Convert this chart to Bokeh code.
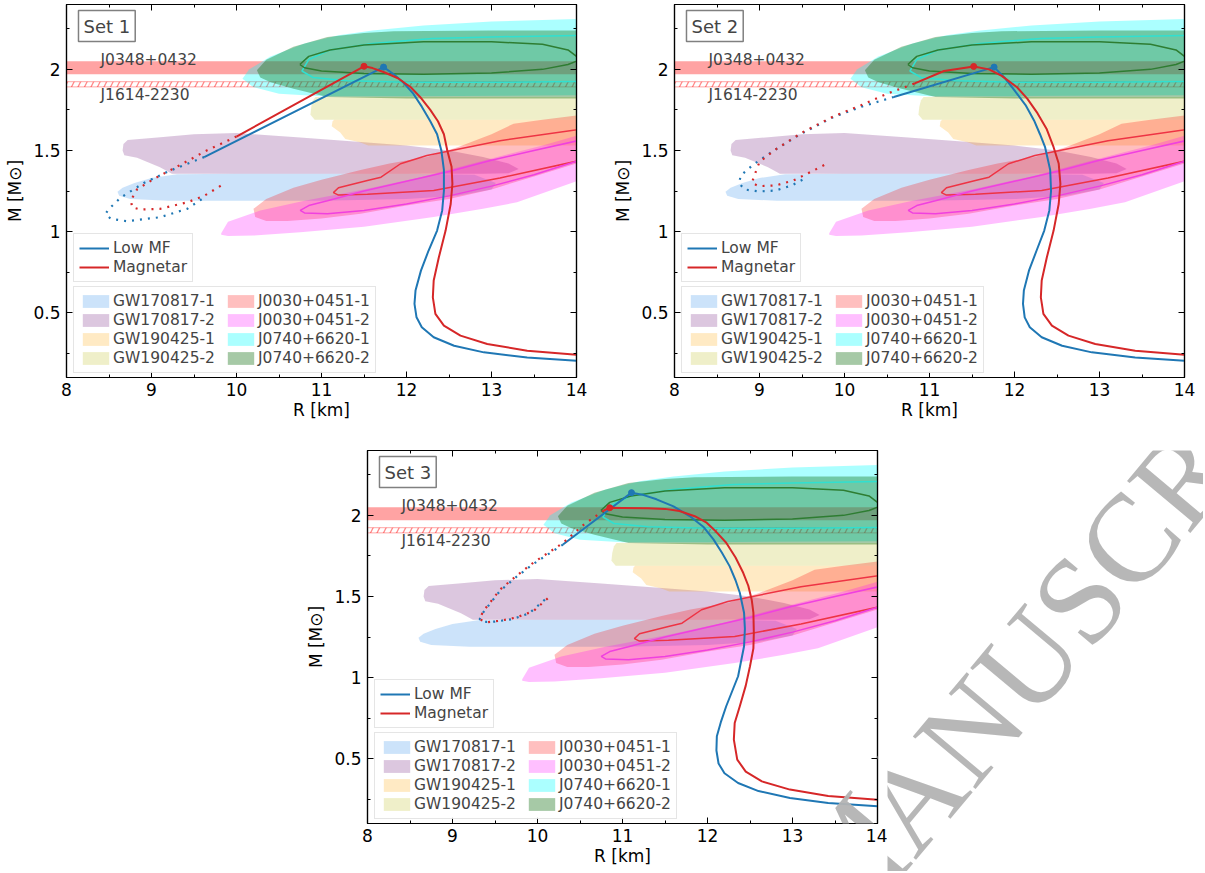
from bokeh.plotting import figure
from bokeh.models import (Range1d, LinearAxis, FixedTicker, SingleIntervalTicker, Label,
                          BoxAnnotation, Legend, LegendItem, Spacer, CustomJSTickFormatter)
from bokeh.layouts import row, column
from bokeh.embed import file_html
from bokeh.resources import INLINE

FONT = "DejaVu Sans"
BLUE = "#1f77b4"
RED = "#d62728"

# ---------------- axes ----------------
R_RANGE = (8, 14)
M_RANGE = (0.1, 2.4)
M_TICKS = [0.5, 1, 1.5, 2]
M_MINOR = [0.25, 0.75, 1.25, 1.75, 2.25]
M_LABELS = ["0.5", "1", "1.5", "2"]

# ---------------- pulsar mass bands ----------------
J0348_BAND = (1.97, 2.05)
J1614_BAND = (1.892, 1.924)

# ---------------- observational regions (R [km], M [Msun]) ----------------
GW170817_1_R = [8.60, 8.66, 8.80, 9.00, 9.30, 10.0, 11.0, 12.0, 12.8, 13.05, 13.0, 12.6, 12.0, 11.0, 10.0, 9.2, 8.75, 8.62]
GW170817_1_M = [1.245, 1.27, 1.30, 1.33, 1.354, 1.356, 1.356, 1.356, 1.35, 1.30, 1.26, 1.22, 1.20, 1.19, 1.19, 1.19, 1.20, 1.22]

GW170817_2_R = [8.67, 8.72, 9.07, 9.5, 10.0, 10.75, 11.5, 12.0, 12.5, 12.9, 13.2, 13.32, 13.2, 12.9, 9.24, 9.1, 8.83, 8.68, 8.66]
GW170817_2_M = [1.54, 1.565, 1.58, 1.60, 1.607, 1.58, 1.55, 1.53, 1.50, 1.46, 1.42, 1.385, 1.36, 1.357, 1.357, 1.397, 1.455, 1.47, 1.50]

GW190425_1_R = [11.15, 14.0, 14.0, 11.55, 11.45, 11.28, 11.22, 11.12, 11.13]
GW190425_1_M = [1.69, 1.69, 1.53, 1.53, 1.55, 1.57, 1.61, 1.65, 1.68]

GW190425_2_R = [10.93, 14.0, 14.0, 10.92, 10.87, 10.88, 10.90]
GW190425_2_M = [1.83, 1.83, 1.69, 1.69, 1.72, 1.77, 1.81]

J0030_1_R = [10.2, 10.35, 10.67, 11.0, 11.46, 11.8, 12.24, 12.6, 13.0, 13.26, 13.6, 14.0,
             14.0, 13.5, 13.0, 12.5, 12.0, 11.46, 11.0, 10.6, 10.35, 10.22]
J0030_1_M = [1.14, 1.20, 1.27, 1.32, 1.38, 1.42, 1.46, 1.52, 1.60, 1.665, 1.69, 1.716,
             1.42, 1.34, 1.26, 1.20, 1.16, 1.11, 1.08, 1.065, 1.065, 1.09]

J0030_2_R = [9.82, 9.9, 10.28, 10.8, 11.5, 12.2, 13.0, 13.6, 14.0,
             14.0, 13.3, 12.9, 12.32, 11.5, 10.75, 10.2, 9.9, 9.82]
J0030_2_M = [0.99, 1.06, 1.13, 1.19, 1.26, 1.34, 1.45, 1.53, 1.59,
             1.31, 1.18, 1.14, 1.09, 1.03, 0.996, 0.975, 0.972, 0.98]

J0740_1_R = [10.07, 10.15, 10.4, 10.8, 11.2, 11.6, 12.2, 13.0, 14.0, 14.0, 12.0, 11.0, 10.5, 10.2]
J0740_1_M = [1.942, 2.0, 2.08, 2.16, 2.21, 2.24, 2.27, 2.295, 2.31, 1.84, 1.835, 1.835, 1.85, 1.89]

J0740_2_R = [10.24, 10.35, 10.67, 11.07, 11.5, 11.85, 13.0, 14.0, 14.0, 12.0, 11.07, 10.67, 10.4, 10.28]
J0740_2_M = [1.994, 2.06, 2.14, 2.20, 2.225, 2.235, 2.24, 2.24, 1.82, 1.82, 1.83, 1.88, 1.92, 1.95]

# 68% contours
J0740_2_C_R = [10.745, 10.85, 11.1, 11.5, 12.2, 13.0, 13.6, 13.9, 14.05, 13.9, 13.6, 13.0, 12.2, 11.5, 11.0, 10.8, 10.745]
J0740_2_C_M = [2.03, 2.08, 2.12, 2.15, 2.17, 2.17, 2.155, 2.12, 2.06, 2.03, 2.0, 1.978, 1.97, 1.975, 1.99, 2.01, 2.03]
J0740_1_C_R = [14.1, 13.0, 12.3, 11.6, 11.1, 10.85, 10.77, 10.9, 11.3, 12.0, 13.0, 14.1]
J0740_1_C_M = [2.21, 2.20, 2.19, 2.16, 2.12, 2.06, 1.99, 1.95, 1.93, 1.92, 1.92, 1.925]
J0030_1_C_R = [14.1, 13.1, 12.24, 11.93, 11.7, 11.54, 11.2, 11.14, 11.2, 11.54, 12.32, 13.1, 14.1]
J0030_1_C_M = [1.635, 1.56, 1.469, 1.418, 1.335, 1.315, 1.27, 1.24, 1.225, 1.23, 1.253, 1.33, 1.445]
J0030_2_C_R = [14.1, 13.5, 13.0, 12.5, 12.0, 11.5, 11.07, 10.85, 10.75, 10.8, 11.07, 11.5, 12.0, 12.5, 13.0, 13.5, 14.1]
J0030_2_C_M = [1.57, 1.50, 1.44, 1.37, 1.31, 1.25, 1.19, 1.16, 1.13, 1.115, 1.11, 1.13, 1.17, 1.22, 1.28, 1.35, 1.45]

# ---------------- mass-radius curves ----------------
# Set 1
S1_LOW_R = [14.0, 13.42, 12.91, 12.56, 12.32, 12.18, 12.118, 12.094, 12.106, 12.17, 12.26, 12.36, 12.42, 12.44,
            12.44, 12.41, 12.36, 12.28, 12.18, 12.08, 11.96, 11.85, 11.73, 9.62]
S1_LOW_M = [0.204, 0.224, 0.255, 0.296, 0.348, 0.41, 0.471, 0.554, 0.636, 0.759, 0.883, 1.006, 1.13, 1.25,
            1.38, 1.50, 1.60, 1.68, 1.77, 1.85, 1.92, 1.97, 2.014, 1.459]
S1_LOW_DOT_R = [9.62, 9.22, 8.91, 8.64, 8.5, 8.46, 8.52, 8.71, 9.1, 9.42, 9.62]
S1_LOW_DOT_M = [1.459, 1.376, 1.30, 1.21, 1.14, 1.11, 1.078, 1.064, 1.088, 1.14, 1.21]
S1_MAG_R = [14.0, 13.42, 12.95, 12.635, 12.44, 12.34, 12.31, 12.32, 12.38, 12.46, 12.52, 12.54, 12.53, 12.48,
            12.44, 12.37, 12.28, 12.16, 12.05, 11.9, 11.73, 11.6, 11.5, 10.0]
S1_MAG_M = [0.241, 0.265, 0.307, 0.358, 0.42, 0.492, 0.594, 0.698, 0.84, 1.006, 1.17, 1.294, 1.40, 1.50,
            1.60, 1.68, 1.75, 1.83, 1.89, 1.945, 1.984, 2.008, 2.019, 1.586]
S1_MAG_DOT_R = [10.0, 9.65, 9.3, 9.03, 8.83, 8.76, 8.77, 8.87, 9.1, 9.42, 9.62, 9.87]
S1_MAG_DOT_M = [1.586, 1.50, 1.40, 1.325, 1.26, 1.195, 1.15, 1.136, 1.14, 1.18, 1.22, 1.30]

# Set 2
S2_LOW_R = [14.0, 13.42, 12.91, 12.56, 12.32, 12.18, 12.12, 12.10, 12.11, 12.17, 12.26, 12.35, 12.41, 12.43,
            12.42, 12.36, 12.30, 12.23, 12.13, 12.0, 11.88, 11.76, 10.58]
S2_LOW_M = [0.204, 0.224, 0.255, 0.296, 0.348, 0.41, 0.471, 0.554, 0.636, 0.759, 0.883, 1.006, 1.13, 1.25,
            1.38, 1.52, 1.60, 1.685, 1.78, 1.87, 1.95, 2.014, 1.83]
S2_LOW_DOT_R = [10.58, 10.2, 9.87, 9.48, 9.17, 8.93, 8.78, 8.76, 8.82, 8.99, 9.19, 9.38, 9.56]
S2_LOW_DOT_M = [1.83, 1.77, 1.706, 1.60, 1.50, 1.414, 1.346, 1.30, 1.26, 1.247, 1.253, 1.284, 1.335]
S2_MAG_R = [14.0, 13.42, 12.95, 12.635, 12.44, 12.34, 12.31, 12.32, 12.38, 12.46, 12.52, 12.54, 12.52, 12.46,
            12.38, 12.27, 12.15, 12.03, 11.85, 11.7, 11.52, 11.17, 10.82]
S2_MAG_M = [0.241, 0.265, 0.307, 0.358, 0.42, 0.492, 0.594, 0.698, 0.84, 1.006, 1.17, 1.294, 1.42, 1.52,
            1.63, 1.73, 1.82, 1.89, 1.96, 2.0, 2.018, 1.99, 1.912]
S2_MAG_DOT_R = [10.82, 10.5, 10.2, 9.87, 9.5, 9.2, 9.0, 8.94, 8.91, 8.99, 9.19, 9.4, 9.6, 9.8]
S2_MAG_DOT_M = [1.912, 1.85, 1.78, 1.71, 1.61, 1.51, 1.43, 1.346, 1.30, 1.28, 1.284, 1.315, 1.367, 1.42]

# Set 3
S3_LOW_R = [14.0, 13.42, 12.97, 12.6, 12.36, 12.2, 12.13, 12.105, 12.11, 12.16, 12.22, 12.36, 12.43, 12.44,
            12.43, 12.38, 12.33, 12.26, 12.17, 12.07, 11.95, 11.79, 11.6, 11.4, 11.25, 11.106, 10.3]
S3_LOW_M = [0.206, 0.226, 0.257, 0.30, 0.35, 0.41, 0.47, 0.55, 0.638, 0.73, 0.823, 1.008, 1.193, 1.30,
            1.40, 1.523, 1.60, 1.687, 1.77, 1.852, 1.93, 1.996, 2.055, 2.099, 2.125, 2.14, 1.82]
S3_LOW_DOT_R = [10.3, 9.95, 9.75, 9.56, 9.44, 9.36, 9.32, 9.35, 9.5, 9.7, 9.9, 10.13]
S3_LOW_DOT_M = [1.82, 1.70, 1.62, 1.535, 1.455, 1.40, 1.36, 1.342, 1.345, 1.36, 1.395, 1.50]
S3_MAG_R = [14.0, 13.42, 12.97, 12.64, 12.45, 12.35, 12.31, 12.32, 12.38, 12.45, 12.5, 12.54, 12.545, 12.54,
            12.52, 12.48, 12.42, 12.33, 12.22, 12.1, 11.99, 11.85, 11.67, 11.5, 11.3, 11.0, 10.85, 10.78]
S3_MAG_M = [0.247, 0.27, 0.309, 0.36, 0.42, 0.494, 0.617, 0.72, 0.823, 0.95, 1.07, 1.18, 1.276, 1.40,
            1.48, 1.566, 1.646, 1.74, 1.831, 1.90, 1.955, 1.995, 2.027, 2.04, 2.044, 2.046, 2.047, 2.03]
S3_MAG_DOT_R = [10.78, 10.55, 10.3, 9.95, 9.75, 9.56, 9.44, 9.36, 9.32, 9.4, 9.56, 9.75, 9.95, 10.15]
S3_MAG_DOT_M = [2.03, 1.945, 1.83, 1.708, 1.626, 1.543, 1.461, 1.409, 1.358, 1.341, 1.35, 1.37, 1.409, 1.502]

SETS = [
    ("Set 1", (S1_LOW_R, S1_LOW_M, S1_LOW_DOT_R, S1_LOW_DOT_M), (S1_MAG_R, S1_MAG_M, S1_MAG_DOT_R, S1_MAG_DOT_M)),
    ("Set 2", (S2_LOW_R, S2_LOW_M, S2_LOW_DOT_R, S2_LOW_DOT_M), (S2_MAG_R, S2_MAG_M, S2_MAG_DOT_R, S2_MAG_DOT_M)),
    ("Set 3", (S3_LOW_R, S3_LOW_M, S3_LOW_DOT_R, S3_LOW_DOT_M), (S3_MAG_R, S3_MAG_M, S3_MAG_DOT_R, S3_MAG_DOT_M)),
]

REGIONS = [
    ("GW170817-1", GW170817_1_R, GW170817_1_M, "#64aaf0", 0.33),
    ("GW170817-2", GW170817_2_R, GW170817_2_M, "#8c4696", 0.30),
    ("GW190425-1", GW190425_1_R, GW190425_1_M, "#ffa500", 0.23),
    ("GW190425-2", GW190425_2_R, GW190425_2_M, "#bebe28", 0.25),
    ("J0030+0451-1", J0030_1_R, J0030_1_M, "#ff0000", 0.25),
    ("J0030+0451-2", J0030_2_R, J0030_2_M, "#ff00ff", 0.25),
    ("J0740+6620-1", J0740_1_R, J0740_1_M, "#00ffff", 0.33),
    ("J0740+6620-2", J0740_2_R, J0740_2_M, "#006400", 0.35),
]
CONTOURS = [
    (J0030_1_C_R, J0030_1_C_M, "#ee3344"),
    (J0030_2_C_R, J0030_2_C_M, "#f040e0"),
    (J0740_1_C_R, J0740_1_C_M, "#30e0d0"),
    (J0740_2_C_R, J0740_2_C_M, "#2e7d32"),
]

WATERMARK = "ACCEPTED MANUSCRIPT"

# ---------------- layout (page pixels) ----------------
FRAME_W, FRAME_H = 510, 373
ROW1 = dict(top=4, bottom=52)
ROW2 = dict(top=21, bottom=48)
P3_OFFSET = 301
P4_W = 316
WM_END = (1329, 280)      # page position of the watermark's end (right edge, middle)
WM_ANGLE = 0.873


def style_axis(ax, size="17px"):
    ax.axis_line_color = "black"
    ax.axis_line_width = 1.2
    ax.major_tick_in = 6
    ax.major_tick_out = 0
    ax.minor_tick_in = 3
    ax.minor_tick_out = 0
    ax.major_tick_line_color = "black"
    ax.minor_tick_line_color = "black"
    ax.major_label_text_font = FONT
    ax.major_label_text_font_size = size
    ax.major_label_text_color = "black"
    ax.axis_label_text_font = FONT
    ax.axis_label_text_font_size = "17px"
    ax.axis_label_text_font_style = "normal"
    ax.axis_label_text_color = "black"


def make_panel(title, low, mag, mbl, mbr, mbt, mbb, wm_frame_origin=None):
    p = figure(x_range=Range1d(*R_RANGE), y_range=Range1d(*M_RANGE),
               frame_width=FRAME_W, frame_height=FRAME_H,
               min_border_left=mbl, min_border_right=mbr, min_border_top=mbt, min_border_bottom=mbb,
               output_backend="svg", toolbar_location=None,
               x_axis_label="R [km]", y_axis_label="M [M\u2299]")
    p.xgrid.visible = False
    p.ygrid.visible = False
    p.outline_line_color = "black"
    p.outline_line_width = 1.2
    p.background_fill_color = "white"
    p.border_fill_color = "white"

    p.xaxis.ticker = SingleIntervalTicker(interval=1, num_minor_ticks=2)
    p.yaxis.ticker = FixedTicker(ticks=M_TICKS, minor_ticks=M_MINOR)
    p.yaxis.major_label_overrides = dict(zip(M_TICKS, M_LABELS))
    for ax in p.xaxis + p.yaxis:
        style_axis(ax)
    p.xaxis.major_label_standoff = 5
    p.xaxis.axis_label_standoff = 1
    p.yaxis.major_label_standoff = 6
    p.yaxis.axis_label_standoff = 5

    blank = CustomJSTickFormatter(code="return ''")
    top = LinearAxis(ticker=SingleIntervalTicker(interval=1, num_minor_ticks=2), formatter=blank)
    right = LinearAxis(ticker=FixedTicker(ticks=M_TICKS, minor_ticks=M_MINOR), formatter=blank)
    for ax in (top, right):
        style_axis(ax, size="1px")
        ax.major_label_standoff = 0
    p.add_layout(top, "above")
    p.add_layout(right, "right")

    # pulsar bands
    p.add_layout(BoxAnnotation(bottom=J0348_BAND[0], top=J0348_BAND[1], fill_color="red", fill_alpha=0.36,
                               line_color=None, level="underlay"))
    p.add_layout(BoxAnnotation(bottom=J1614_BAND[0], top=J1614_BAND[1], fill_color=None, fill_alpha=0,
                               line_color="red", line_alpha=0.35, line_width=1,
                               hatch_pattern="/", hatch_color="#ff4040", hatch_alpha=0.6,
                               hatch_scale=13, hatch_weight=1.3, level="underlay"))

    patches = []
    for name, rr, mm, col, a in REGIONS:
        r = p.patch(rr, mm, fill_color=col, fill_alpha=a, line_color=None)
        patches.append((name, r))
    for rr, mm, col in CONTOURS:
        p.line(rr, mm, line_color=col, line_width=1.5)

    lines = []
    for (rr, mm, dr, dm), col in ((low, BLUE), (mag, RED)):
        ln = p.line(rr, mm, line_color=col, line_width=2, line_join="round")
        p.line(dr, dm, line_color=col, line_width=2.2, line_dash="2 6")
        i = max(range(len(mm)), key=lambda k: mm[k])
        p.scatter([rr[i]], [mm[i]], size=6, color=col)
        lines.append(ln)

    p.add_layout(Label(x=8.4, y=2.056, text="J0348+0432", text_font=FONT, text_font_size="15.5px",
                       text_baseline="alphabetic", text_align="left"))
    p.add_layout(Label(x=8.4, y=1.90, text="J1614-2230", text_font=FONT, text_font_size="15.5px",
                       text_baseline="top", text_align="left"))
    p.add_layout(Label(x=8.141, y=2.3625, text=title, text_font=FONT, text_font_size="18px",
                       text_baseline="top", text_align="left", background_fill_color="white",
                       border_line_color="#808080", border_line_width=1.5, padding=5))

    common = dict(label_text_font=FONT, label_text_font_size="15.5px", margin=0, padding=5, spacing=1,
                  border_line_color="#cccccc", border_line_width=1.2, background_fill_alpha=0.85,
                  glyph_height=16, label_height=18)
    leg1 = Legend(items=[LegendItem(label="Low MF", renderers=[lines[0]]),
                         LegendItem(label="Magnetar", renderers=[lines[1]])],
                  location=(7, 95), glyph_width=30, label_standoff=4, **common)
    leg2 = Legend(items=[LegendItem(label=n, renderers=[r]) for n, r in patches],
                  location=(7, 4), nrows=4, orientation="vertical", glyph_width=33, label_standoff=1,
                  label_width=110, **common)
    p.add_layout(leg1)
    p.add_layout(leg2)

    if wm_frame_origin is not None:
        fx, fy = wm_frame_origin  # page px of frame top-left
        sx = (R_RANGE[1] - R_RANGE[0]) / FRAME_W
        sy = (M_RANGE[1] - M_RANGE[0]) / FRAME_H
        p.add_layout(Label(x=R_RANGE[0] + (WM_END[0] - fx) * sx, y=M_RANGE[1] + (fy - WM_END[1]) * sy,
                           text=WATERMARK, angle=WM_ANGLE, text_align="right", text_baseline="middle",
                           text_font="Liberation Serif", text_font_size="125px",
                           text_color="#b3b3b3", text_alpha=0.95))
    return p


p1 = make_panel(SETS[0][0], SETS[0][1], SETS[0][2], 66, 32, ROW1["top"], ROW1["bottom"])
p2 = make_panel(SETS[1][0], SETS[1][1], SETS[1][2], 66, 15, ROW1["top"], ROW1["bottom"])
row1_h = ROW1["top"] + FRAME_H + ROW1["bottom"]
p3_frame = (P3_OFFSET + 66, row1_h + ROW2["top"])
p3 = make_panel(SETS[2][0], SETS[2][1], SETS[2][2], 66, 10, ROW2["top"], ROW2["bottom"],
                wm_frame_origin=p3_frame)

# blank area right of panel 3 that carries the rest of the watermark
p4_h = ROW2["top"] + FRAME_H + ROW2["bottom"]
p4_left = P3_OFFSET + 66 + FRAME_W + 10
p4 = figure(frame_width=P4_W, frame_height=p4_h, x_range=Range1d(0, P4_W), y_range=Range1d(0, p4_h),
            min_border=0, x_axis_type=None, y_axis_type=None, output_backend="svg", toolbar_location=None)
p4.xgrid.visible = False
p4.ygrid.visible = False
p4.outline_line_color = None
p4.add_layout(Label(x=WM_END[0] - p4_left, y=(row1_h + p4_h) - WM_END[1], text=WATERMARK, angle=WM_ANGLE,
                    text_align="right", text_baseline="middle", text_font="Liberation Serif",
                    text_font_size="125px", text_color="#b3b3b3", text_alpha=0.95))

layout = column(row(p1, p2), row(Spacer(width=P3_OFFSET, height=10), p3, p4))

with open("out.html", "w") as f:
    f.write(file_html(layout, INLINE))
